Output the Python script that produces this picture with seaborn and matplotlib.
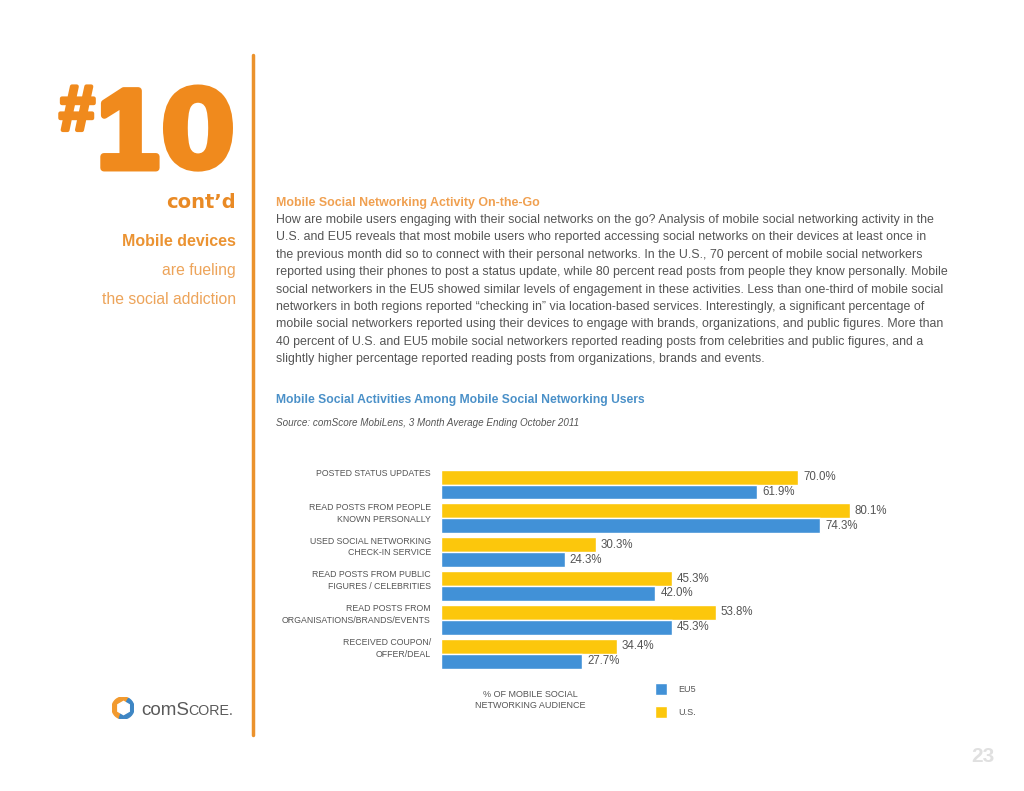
import numpy as np
import pandas as pd
import matplotlib
matplotlib.use("Agg")
import matplotlib.pyplot as plt
import matplotlib.transforms as mtransforms
import matplotlib.patheffects as pe
from matplotlib.patches import Wedge, RegularPolygon
import seaborn as sns

# chart data
activities = [
    "POSTED STATUS UPDATES",
    "READ POSTS FROM PEOPLE\nKNOWN PERSONALLY",
    "USED SOCIAL NETWORKING\nCHECK-IN SERVICE",
    "READ POSTS FROM PUBLIC\nFIGURES / CELEBRITIES",
    "READ POSTS FROM\nORGANISATIONS/BRANDS/EVENTS",
    "RECEIVED COUPON/\nOFFER/DEAL",
]
us_pct = [70.0, 80.1, 30.3, 45.3, 53.8, 34.4]
eu5_pct = [61.9, 74.3, 24.3, 42.0, 45.3, 27.7]
regions = ["U.S.", "EU5"]

paragraph = [
    "How are mobile users engaging with their social networks on the go? Analysis of mobile social networking activity in the",
    "U.S. and EU5 reveals that most mobile users who reported accessing social networks on their devices at least once in",
    "the previous month did so to connect with their personal networks. In the U.S., 70 percent of mobile social networkers",
    "reported using their phones to post a status update, while 80 percent read posts from people they know personally. Mobile",
    "social networkers in the EU5 showed similar levels of engagement in these activities. Less than one-third of mobile social",
    "networkers in both regions reported \u201cchecking in\u201d via location-based services. Interestingly, a significant percentage of",
    "mobile social networkers reported using their devices to engage with brands, organizations, and public figures. More than",
    "40 percent of U.S. and EU5 mobile social networkers reported reading posts from celebrities and public figures, and a",
    "slightly higher percentage reported reading posts from organizations, brands and events.",
]

YELLOW = "#FCC70C"
BLUE = "#4191D7"
ORANGE = "#F08A1D"
GRAY = "#555555"

df = pd.DataFrame({
    "activity": activities * 2,
    "pct": us_pct + eu5_pct,
    "region": ["U.S."] * len(activities) + ["EU5"] * len(activities),
})

sns.set_theme(style="white")
plt.rcParams["font.family"] = ["Liberation Sans", "DejaVu Sans"]

W, H = 1024, 791
fig = plt.figure(figsize=(10.24, 7.91), dpi=100)
fig.patch.set_facecolor("white")


def px(x, y):
    return x / W, 1 - y / H


ax = fig.add_axes([441 / W, 1 - 670.6 / H, 510.6 / W, 203 / H])
sns.barplot(data=df, y="activity", x="pct", hue="region", hue_order=regions,
            palette={"U.S.": YELLOW, "EU5": BLUE}, orient="h", width=0.88,
            saturation=1, order=activities, ax=ax)
ax.set_xlim(0, 100)
ax.set_ylim(len(activities) - 0.5, -0.5)
for c in ax.containers:
    ax.bar_label(c, fmt="%.1f%%", padding=3.5, fontsize=8.3, color=GRAY)
ax.set_xlabel("")
ax.set_ylabel("")
ax.set_xticks([])
ax.set_yticks([])
for s in ax.spines.values():
    s.set_visible(False)

# category labels, top-aligned with each group
trans = mtransforms.blended_transform_factory(ax.transAxes, ax.transData)
for i, name in enumerate(activities):
    ax.text(-0.02, i - 0.46, name, transform=trans, ha="right", va="top",
            fontsize=6.3, color=GRAY, linespacing=1.4)

# legend: EU5 above U.S.
handles, labels = ax.get_legend_handles_labels()
ax.get_legend().remove()
fig.legend(handles[::-1], labels[::-1], loc="upper left",
           bbox_to_anchor=px(647, 675), frameon=False, fontsize=6.5,
           handlelength=1.3, handleheight=1.6, handletextpad=1.3,
           labelspacing=1.25, labelcolor=GRAY)
fig.text(*px(530, 700), "% OF MOBILE SOCIAL\nNETWORKING AUDIENCE", ha="center",
         va="center", fontsize=6.5, color=GRAY, linespacing=1.35)

# left side panel
thick = [pe.withStroke(linewidth=3, foreground=ORANGE)]
fig.text(*px(77, 130), "#", fontsize=46, fontweight="bold", color=ORANGE,
         ha="center", va="baseline", path_effects=thick)
fig.text(*px(128, 168), "1", fontsize=81, fontweight="bold", color=ORANGE,
         ha="center", va="baseline",
         path_effects=[pe.withStroke(linewidth=5, foreground=ORANGE)])
fig.text(*px(198, 168), "0", fontsize=79, fontweight="bold", color=ORANGE,
         ha="center", va="baseline", family="DejaVu Sans", path_effects=thick)
fig.text(*px(236, 208), "cont\u2019d", fontsize=14, fontweight="bold",
         color="#E98A25", ha="right", va="baseline", family="DejaVu Sans")
fig.text(*px(236, 241), "Mobile devices", fontsize=11.5, fontweight="bold",
         color="#EB9332", ha="right", va="center")
fig.text(*px(236, 271), "are fueling", fontsize=11.3, color="#EDA45A",
         ha="right", va="center")
fig.text(*px(236, 300), "the social addiction", fontsize=11.3, color="#EDA45A",
         ha="right", va="center")
fig.add_artist(plt.Line2D([253 / W, 253 / W], [1 - 55 / H, 1 - 735 / H],
                          color="#EB922C", lw=2.5))

# text block
fig.text(*px(276, 203), "Mobile Social Networking Activity On-the-Go",
         fontsize=8.9, fontweight="bold", color="#F0A050", va="center")
for i, line in enumerate(paragraph):
    fig.text(*px(276, 220 + i * 17.4), line, fontsize=8.9, color=GRAY,
             va="center")
fig.text(*px(276, 400), "Mobile Social Activities Among Mobile Social Networking Users",
         fontsize=8.7, fontweight="bold", color="#4A90C8", va="center")
fig.text(*px(276, 423), "Source: comScore MobiLens, 3 Month Average Ending October 2011",
         fontsize=7.1, style="italic", color=GRAY, va="center")

# comScore logo
lax = fig.add_axes([112 / W, 1 - 719 / H, 22 / W, 22 / H])
lax.set_xlim(-1, 1)
lax.set_ylim(-1, 1)
lax.set_aspect("equal")
lax.axis("off")
lax.add_patch(Wedge((0, 0), 1, 60, 250, width=0.45, color="#F29A2E"))
lax.add_patch(Wedge((0, 0), 1, 250, 60, width=0.45, color="#3E86C4"))
lax.add_patch(RegularPolygon((0.05, 0), 6, radius=0.6, color="white"))
fig.text(*px(141, 715), "comS", fontsize=13.5, color="#5a5a5a", va="baseline")
fig.text(*px(188.5, 715), "CORE.", fontsize=10.3, color="#5a5a5a", va="baseline")

fig.text(*px(983, 756), "23", fontsize=15, fontweight="bold", color="#E0E0E0",
         ha="center", va="center")

fig.savefig("out.png", dpi=100, facecolor="white")
